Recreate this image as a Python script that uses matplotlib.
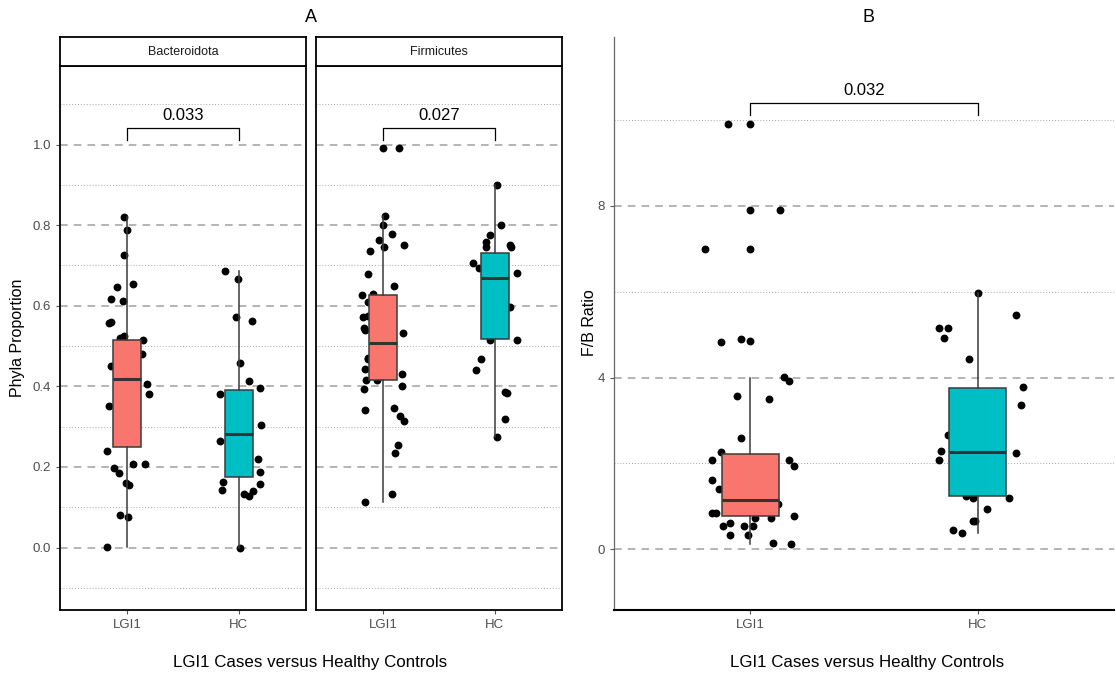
import matplotlib.pyplot as plt
from matplotlib.ticker import MultipleLocator

plt.rcParams['font.family'] = ['Liberation Sans', 'DejaVu Sans']

groups = ["LGI1", "HC"]
box_colors = ["#F8766D", "#00BFC4"]

# Bacteroidota proportions (jitter offsets read in category units)
bact_lgi1 = [0.821, 0.788, 0.726, 0.654, 0.646, 0.617, 0.613, 0.56, 0.556, 0.525, 0.52, 0.515,
             0.48, 0.451, 0.405, 0.38, 0.351, 0.24, 0.208, 0.208, 0.197, 0.185, 0.159, 0.155,
             0.08, 0.075, 0.001]
bact_lgi1_jit = [-0.03, 0.0, -0.03, 0.05, -0.09, -0.14, -0.04, -0.14, -0.16, -0.03, -0.06, 0.14,
                 0.13, -0.14, 0.18, 0.2, -0.16, -0.18, 0.05, 0.16, -0.12, -0.07, -0.01, 0.02,
                 -0.06, 0.01, -0.18]
bact_hc = [0.686, 0.666, 0.571, 0.563, 0.459, 0.414, 0.397, 0.38, 0.305, 0.264, 0.22, 0.188,
           0.162, 0.143, 0.157, 0.141, 0.132, 0.128, 0.0]
bact_hc_jit = [-0.12, -0.01, -0.02, 0.12, 0.01, 0.09, 0.19, -0.17, 0.2, -0.17, 0.17, 0.19,
               -0.14, -0.15, 0.19, 0.13, 0.05, 0.09, 0.01]

# Firmicutes proportions
firm_lgi1 = [0.992, 0.992, 0.823, 0.8, 0.777, 0.763, 0.747, 0.751, 0.735, 0.679, 0.65, 0.627,
             0.629, 0.61, 0.571, 0.575, 0.546, 0.54, 0.532, 0.471, 0.469, 0.443, 0.43, 0.417,
             0.417, 0.402, 0.393, 0.342, 0.346, 0.327, 0.315, 0.255, 0.235, 0.134, 0.113]
firm_lgi1_jit = [0.0, 0.14, 0.02, 0.0, 0.08, -0.04, 0.01, 0.19, -0.12, -0.13, 0.1, -0.19,
                 -0.09, -0.13, -0.18, -0.13, -0.17, -0.16, 0.18, -0.13, -0.13, -0.16, 0.17, -0.15,
                 -0.05, 0.17, -0.17, -0.16, 0.1, 0.15, 0.19, 0.13, 0.11, 0.08, -0.16]
firm_hc = [0.9, 0.8, 0.776, 0.757, 0.747, 0.75, 0.745, 0.706, 0.693, 0.681, 0.598, 0.515,
           0.515, 0.469, 0.44, 0.386, 0.383, 0.319, 0.274]
firm_hc_jit = [0.02, 0.06, -0.04, -0.08, -0.08, 0.14, 0.15, -0.19, -0.14, 0.2, 0.14, 0.2,
               -0.04, -0.12, -0.17, 0.09, 0.11, 0.09, 0.02]

# F/B ratio
fb_lgi1 = [9.91, 9.91, 7.9, 7.9, 7.0, 7.0, 4.83, 4.89, 4.85, 4.02, 3.92, 3.57, 3.5, 2.59, 2.27,
           2.08, 2.07, 1.93, 1.61, 1.4, 1.06, 0.83, 0.85, 0.78, 0.73, 0.72, 0.54, 0.6, 0.54,
           0.54, 0.33, 0.33, 0.15, 0.12]
fb_lgi1_jit = [-0.1, 0.0, 0.0, 0.13, -0.2, 0.0, -0.13, -0.04, 0.0, 0.15, 0.17, -0.06, 0.08, -0.04,
               -0.13, -0.17, 0.17, 0.19, -0.17, -0.14, 0.12, -0.17, -0.15, 0.19, 0.02, 0.09,
               -0.12, -0.09, -0.03, 0.01, -0.09, -0.01, 0.1, 0.18]
fb_hc = [5.98, 5.45, 5.16, 5.16, 4.92, 4.43, 3.79, 3.37, 2.66, 2.28, 2.07, 2.24, 1.24, 1.2,
         1.2, 0.93, 0.66, 0.66, 0.45, 0.38]
fb_hc_jit = [0.0, 0.17, -0.17, -0.13, -0.15, -0.04, 0.2, 0.19, -0.13, -0.16, -0.17, 0.17,
             -0.05, -0.02, 0.14, 0.04, -0.02, -0.01, -0.11, -0.07]

# box summaries: [whislo, q1, med, q3, whishi]
bact_box = [[0.001, 0.25, 0.418, 0.515, 0.821], [0.0, 0.175, 0.283, 0.39, 0.686]]
firm_box = [[0.113, 0.417, 0.507, 0.627, 0.823], [0.274, 0.517, 0.668, 0.73, 0.9]]
fb_box = [[0.12, 0.78, 1.14, 2.22, 4.0], [0.38, 1.24, 2.27, 3.75, 5.98]]

p_bact, p_firm, p_fb = "0.033", "0.027", "0.032"

W, H = 1116, 674
fig = plt.figure(figsize=(W / 100, H / 100), dpi=100)

tick_col = "#4d4d4d"


def draw_panel(ax, box, pts, jits, major, minor, ylim):
    ax.set_xlim(0.4, 2.6)
    ax.set_ylim(*ylim)
    ax.yaxis.set_major_locator(MultipleLocator(major))
    ax.yaxis.set_minor_locator(MultipleLocator(minor))
    ax.grid(which="major", axis="y", color="#a0a0a0", ls=(0, (5, 4)), lw=1.1, zorder=0)
    ax.grid(which="minor", axis="y", color="#a8a8a8", ls=(0, (1, 2)), lw=0.7, zorder=0)
    ax.tick_params(which="minor", length=0)
    ax.tick_params(which="major", length=3, color="#555555", labelcolor=tick_col, labelsize=9.5)
    for i, (vals, jit) in enumerate(zip(pts, jits)):
        ax.scatter([i + 1 + j for j in jit], vals, s=32, color="black", zorder=2, linewidths=0)
    stats = []
    for b in box:
        stats.append(dict(whislo=b[0], q1=b[1], med=b[2], q3=b[3], whishi=b[4], fliers=[]))
    bp = ax.bxp(stats, positions=[1, 2], widths=0.25, showcaps=False, showfliers=False,
                patch_artist=True,
                boxprops=dict(edgecolor="#3a3a3a", lw=1.1),
                whiskerprops=dict(color="#3a3a3a", lw=1.1),
                medianprops=dict(color="#333333", lw=2.2))
    for patch, c in zip(bp["boxes"], box_colors):
        patch.set_facecolor(c)
        patch.set_zorder(3)
    for line in bp["whiskers"] + bp["medians"]:
        line.set_zorder(3)
    ax.set_xticks([1, 2])
    ax.set_xticklabels(groups)


def bracket(ax, y0, y1, label, ty):
    ax.plot([1, 1, 2, 2], [y0, y1, y1, y0], color="black", lw=0.9, zorder=4)
    ax.text(1.5, ty, label, ha="center", va="center", fontsize=12, color="black")


bottom = (H - 610) / H
a_h = 544 / H
a_w = 245.7 / W
ylim_a = (-0.155, 1.195)

ax1 = fig.add_axes([60 / W, bottom, a_w, a_h])
draw_panel(ax1, bact_box, [bact_lgi1, bact_hc], [bact_lgi1_jit, bact_hc_jit], 0.2, 0.1, ylim_a)
bracket(ax1, 1.012, 1.041, p_bact, 1.072)
ax1.set_yticks([0, 0.2, 0.4, 0.6, 0.8, 1.0])
ax1.set_yticklabels(["0.0", "0.2", "0.4", "0.6", "0.8", "1.0"])

ax2 = fig.add_axes([316 / W, bottom, a_w, a_h])
draw_panel(ax2, firm_box, [firm_lgi1, firm_hc], [firm_lgi1_jit, firm_hc_jit], 0.2, 0.1, ylim_a)
bracket(ax2, 1.012, 1.041, p_firm, 1.072)
ax2.tick_params(axis="y", which="both", length=0, labelleft=False)

for ax, name, x0 in [(ax1, "Bacteroidota", 60), (ax2, "Firmicutes", 316)]:
    for sp in ax.spines.values():
        sp.set_color("black")
        sp.set_linewidth(1.3)
    strip = fig.add_axes([x0 / W, (H - 66) / H, a_w, 28.7 / H])
    strip.set_xticks([])
    strip.set_yticks([])
    for sp in strip.spines.values():
        sp.set_color("black")
        sp.set_linewidth(1.3)
    strip.text(0.5, 0.5, name, ha="center", va="center", fontsize=9, color="#1a1a1a",
               transform=strip.transAxes)

ax3 = fig.add_axes([614 / W, bottom, 500 / W, (610 - 37) / H])
draw_panel(ax3, fb_box, [fb_lgi1, fb_hc], [fb_lgi1_jit, fb_hc_jit], 4, 2, (-1.42, 11.94))
bracket(ax3, 10.12, 10.39, p_fb, 10.7)
ax3.set_yticks([0, 4, 8])
ax3.spines["top"].set_visible(False)
ax3.spines["right"].set_visible(False)
ax3.spines["left"].set_color("#666666")
ax3.spines["left"].set_linewidth(0.9)
ax3.spines["bottom"].set_color("black")
ax3.spines["bottom"].set_linewidth(1.5)

fig.text(311 / W, 1 - 17 / H, "A", ha="center", va="center", fontsize=13)
fig.text(869 / W, 1 - 17 / H, "B", ha="center", va="center", fontsize=13)
fig.text(310 / W, 1 - 663 / H, "LGI1 Cases versus Healthy Controls", ha="center",
         va="center", fontsize=12.2)
fig.text(867 / W, 1 - 663 / H, "LGI1 Cases versus Healthy Controls", ha="center",
         va="center", fontsize=12.2)
fig.text(18 / W, 1 - 338 / H, "Phyla Proportion", ha="center", va="center",
         rotation=90, fontsize=11.5)
fig.text(589 / W, 1 - 323 / H, "F/B Ratio", ha="center", va="center",
         rotation=90, fontsize=11.5)

fig.savefig("out.png", dpi=100)
